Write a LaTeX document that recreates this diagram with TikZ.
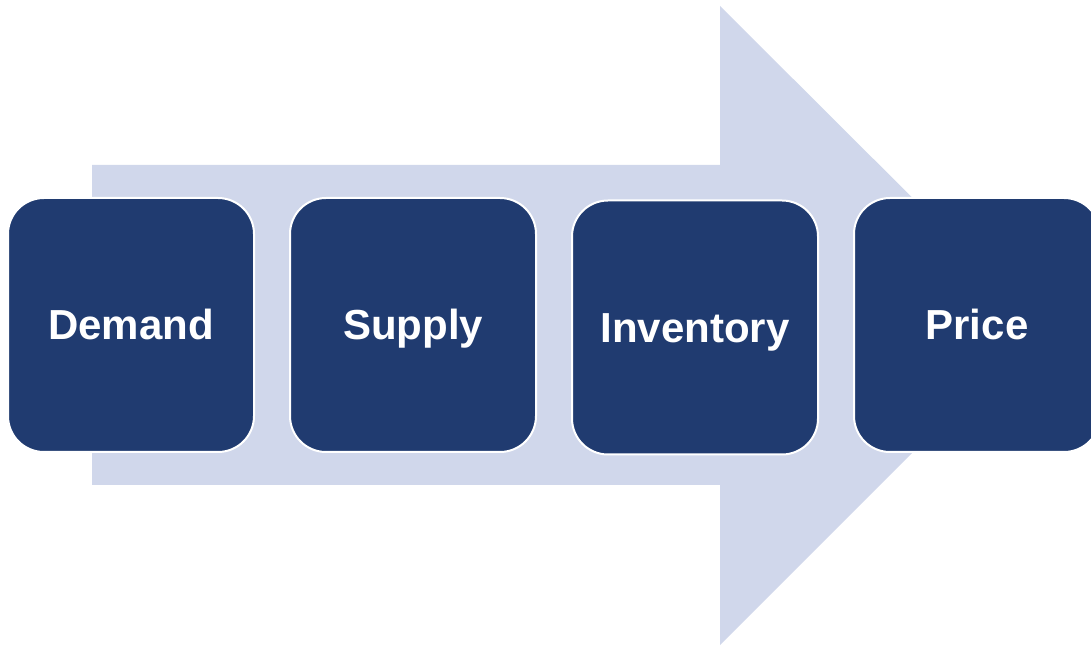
\documentclass[tikz,border=0pt]{standalone}
\usepackage{fontspec}
\setmainfont{Liberation Sans}
\usetikzlibrary{positioning,calc}
\definecolor{boxblue}{HTML}{203B70}
\definecolor{arrowblue}{HTML}{D0D7EB}
\tikzset{
	stage/.style={
		rectangle,
		rounded corners=36pt,
		draw=white,
		line width=2pt,
		fill=boxblue,
		text=white,
		font=\fontsize{42}{48}\selectfont\bfseries,
		text height=30pt,
		text depth=0pt,
		minimum width=246pt,
		minimum height=254pt,
	},
}
\begin{document}
\begin{tikzpicture}[x=1pt, y=1pt, node distance=34pt]
				\useasboundingbox (0,0) rectangle (1091,645);
				% arrow
				\fill[arrowblue] (92,160) -- (720,160) -- (720,0) -- (1040,320)
					-- (720,639) -- (720,480) -- (92,480) -- cycle;
				% nodes
				\node [stage] (demand) at (131,320) {Demand};
				\node [stage] (supply) [right=of demand] {Supply};
				\node [stage] (inventory) [right=of supply, yshift=-2.5pt] {Inventory};
				\node [stage] (price) [right=of inventory, yshift=2.5pt] {Price};
			\end{tikzpicture}
\end{document}
